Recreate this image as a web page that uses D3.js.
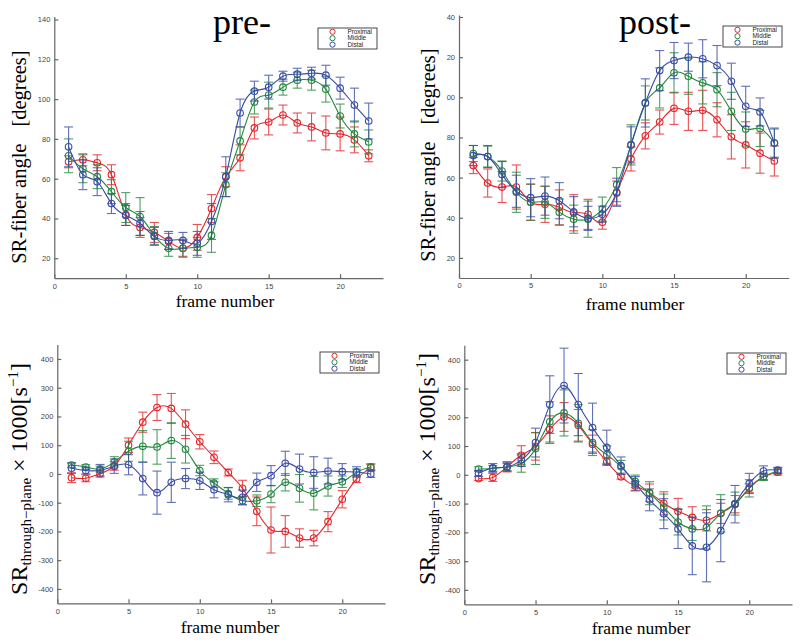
<!DOCTYPE html>
<html>
<head>
<meta charset="utf-8">
<script src="https://cdn.jsdelivr.net/npm/d3@7"></script>
<style>
  body { margin: 0; background: #fff; }
  svg { display: block; }
  .axis path, .axis line { stroke: #666; stroke-width: 1.2; }
  .axis text { font-family: "Liberation Sans", Arial, sans-serif; font-size: 7.5px; fill: #444; }
  .serif { font-family: "Liberation Serif", "Times New Roman", serif; fill: #000; }
  .legend text { font-family: "Liberation Sans", Arial, sans-serif; font-size: 6.3px; fill: #222; }
</style>
</head>
<body>
<svg id="chart"></svg>
<script>
// ---- data ----
const frames = [1,2,3,4,5,6,7,8,9,10,11,12,13,14,15,16,17,18,19,20,21,22];
const seriesNames = ["Proximal", "Middle", "Distal"];
const xTicks = [0, 5, 10, 15, 20];

const angleTicks = [20, 40, 60, 80, 100, 120, 140];
const angleTickLabelsPre = ["20", "40", "60", "80", "100", "120", "140"];
const angleTickLabelsPost = ["20", "40", "60", "80", "00", "20", "40"];
const srTicks = [-400, -300, -200, -100, 0, 100, 200, 300, 400];
const srTickLabels = ["-400", "-300", "-200", "-100", "0", "100", "200", "300", "400"];

// pre- : SR-fiber angle
const preAngleProximal    = [68.5,69.5,68,62,42,35.5,33,28.5,25,30.5,45,61,70.5,85.5,88.5,92,88,86,83,82.5,79.5,71.5];
const preAngleProximalErr = [3,3,4,5,5.5,5,5,4,4,6.5,7,5,6.5,5.5,6.5,5,5,7,8.5,8.5,6.5,3];
const preAngleMiddle      = [71.5,65,61,53.5,45.5,41,31.5,25,25,25.5,31.5,57,79,98.5,102,106,109.5,109.5,105,91.5,82.5,78.5];
const preAngleMiddleErr   = [8.5,7,6,6,7.5,9.5,4.5,4,4.5,5,8.5,6,7,6,6.5,4,4,5,6.5,6,6.5,6];
const preAngleDistal      = [76,62,58.5,47.5,41.5,37.5,31,29,29,27.5,38.5,61,93,104,106,111.5,112.5,113,112,105.5,97,89];
const preAngleDistalErr   = [10,7.5,7,5,5,6,4.5,4.5,4,6,9,10,7,5,6,2.5,3,3,5,5.5,8.5,9];

// post- : SR-fiber angle
const postAngleProximal    = [66,57.3,55.3,55.3,47.7,46.7,45.2,42.5,41.7,37.8,52.3,69.3,80.8,87.7,94.5,93,93.5,88.8,80.3,76.3,72.2,68.3];
const postAngleProximalErr = [4,7,7.7,11,9,9,8.7,9,7.5,3.5,6,6,6.5,6,8,9.5,10,8.5,11,11.5,10,7.5];
const postAngleMiddle      = [72,70.5,63.3,52.7,47.8,47.7,42.8,39.3,39.3,44.3,56.5,76.3,97.2,104.7,112.2,110.5,107.2,103.8,93,84.2,84.5,77.2];
const postAngleMiddleErr   = [4,5.2,5,10,9,8,6.5,7,9,6,8.5,10,8.5,10,10,9,10.5,8.5,9.5,8.5,9,7];
const postAngleDistal      = [71,70.5,61.5,53.2,50,50.8,48.5,43,39.7,41.8,52.7,76.3,97.2,113.3,118.3,120,119.2,115.8,108,95.5,92.7,77.2];
const postAngleDistalErr   = [5,5.5,6.5,8,9.5,9.5,9,7.5,6,4,7,9,12,10,9,7,9.5,10,9,10,7,7.5];

// pre- : through-plane strain rate x1000
const preSRProximal    = [-13,-15,1,28,100,180,231,228,173,112,58,5,-50,-130,-195,-200,-223,-223,-166,-88,-18,22];
const preSRProximalErr = [17,12,12,15,25,35,45,52,50,25,22,12,28,50,80,55,32,27,35,30,12,12];
const preSRMiddle      = [31,24,17,42,79,96,94,116,86,12,-32,-68,-93,-93,-70,-29,-50,-67,-42,-27,5,25];
const preSRMiddleErr   = [8,8,10,18,35,55,60,62,48,18,15,20,15,20,30,30,48,58,35,20,12,10];
const preSRDistal      = [20,12,13,27,32,-16,-65,-29,-16,-24,-55,-72,-81,-29,-6,37,17,5,10,8,7,0];
const preSRDistalErr   = [18,12,20,25,35,57,75,70,35,30,28,25,25,32,35,42,52,55,45,28,18,12];

// post- : through-plane strain rate x1000
const postSRProximal    = [-13,-9,28,68,99,157,201,172,106,45,-7,-39,-62,-99,-127,-148,-158,-134,-102,-46,-7,9];
const postSRProximalErr = [7,14,18,33,48,48,50,55,32,12,8,15,30,40,45,37,37,35,30,15,10,10];
const postSRMiddle      = [20,22,27,39,91,184,215,179,112,70,28,-23,-64,-112,-164,-188,-183,-134,-100,-47,-7,14];
const postSRMiddleErr   = [8,10,12,30,55,70,80,65,45,30,22,22,40,45,45,40,75,65,40,30,13,10];
const postSRDistal      = [5,24,27,51,112,244,310,244,164,95,32,-31,-87,-135,-188,-247,-252,-194,-102,-30,13,16];
const postSRDistalErr   = [10,15,15,22,50,100,130,108,85,60,30,25,38,52,68,100,120,108,65,35,18,10];

// ---- layout ----
const width = 800, height = 642;
const colors = { Proximal: "#e3262c", Middle: "#24883f", Distal: "#3a4ca6" };

const svg = d3.select("#chart").attr("width", width).attr("height", height);

const panels = [
  { left: 54.3, right: 383, top: 16.5, bottom: 278.2, yDomain: [10, 141.5],
    yTicks: angleTicks, yLabels: angleTickLabelsPre, kind: "angle",
    title: "pre-", titleX: 242, titleY: 34, xLabelX: 225, xLabelY: 307, yLabelX: 26, yLabelY: 157,
    legend: { x: 318, y: 28 },
    series: [[preAngleProximal, preAngleProximalErr], [preAngleMiddle, preAngleMiddleErr], [preAngleDistal, preAngleDistalErr]] },
  { left: 459, right: 788.7, top: 15, bottom: 278, yDomain: [10, 141],
    yTicks: angleTicks, yLabels: angleTickLabelsPost, kind: "angle",
    title: "post-", titleX: 655, titleY: 34, xLabelX: 635, xLabelY: 310, yLabelX: 435, yLabelY: 155,
    legend: { x: 723, y: 26 },
    series: [[postAngleProximal, postAngleProximalErr], [postAngleMiddle, postAngleMiddleErr], [postAngleDistal, postAngleDistalErr]] },
  { left: 57.3, right: 385, top: 344.6, bottom: 603.3, yDomain: [-450, 450],
    yTicks: srTicks, yLabels: srTickLabels, kind: "sr",
    xLabelX: 230, xLabelY: 633, yLabelX: 27, yLabelY: 479,
    legend: { x: 320, y: 352 },
    series: [[preSRProximal, preSRProximalErr], [preSRMiddle, preSRMiddleErr], [preSRDistal, preSRDistalErr]] },
  { left: 464.3, right: 792, top: 345.3, bottom: 604.3, yDomain: [-450, 450],
    yTicks: srTicks, yLabels: srTickLabels, kind: "sr",
    xLabelX: 641, xLabelY: 634, yLabelX: 435, yLabelY: 469,
    legend: { x: 727, y: 353 },
    series: [[postSRProximal, postSRProximalErr], [postSRMiddle, postSRMiddleErr], [postSRDistal, postSRDistalErr]] }
];

function drawPanel(p) {
  const g = svg.append("g");
  const x = d3.scaleLinear().domain([0, 23]).range([p.left, p.right]);
  const y = d3.scaleLinear().domain(p.yDomain).range([p.bottom, p.top]);

  g.append("g").attr("class", "axis")
    .attr("transform", `translate(0,${p.bottom})`)
    .call(d3.axisBottom(x).tickValues(xTicks).tickFormat(d3.format("d"))
      .tickSizeInner(-4).tickSizeOuter(0).tickPadding(5));

  g.append("g").attr("class", "axis")
    .attr("transform", `translate(${p.left},0)`)
    .call(d3.axisLeft(y).tickValues(p.yTicks).tickFormat((d, i) => p.yLabels[i])
      .tickSizeInner(-4).tickSizeOuter(0).tickPadding(4));

  const line = d3.line().curve(d3.curveNatural)
    .x(d => x(d.f)).y(d => y(d.v));

  p.series.forEach(([vals, errs], si) => {
    const name = seriesNames[si];
    const col = colors[name];
    const pts = frames.map((f, i) => ({ f: f, v: vals[i], e: errs[i] }));
    const s = g.append("g");

    const eb = s.selectAll(".eb").data(pts).enter().append("g")
      .attr("stroke", col).attr("stroke-width", 1.1).attr("opacity", 0.8);
    eb.append("line")
      .attr("x1", d => x(d.f)).attr("x2", d => x(d.f))
      .attr("y1", d => y(d.v - d.e)).attr("y2", d => y(d.v + d.e));
    eb.append("line")
      .attr("x1", d => x(d.f) - 4.5).attr("x2", d => x(d.f) + 4.5)
      .attr("y1", d => y(d.v - d.e)).attr("y2", d => y(d.v - d.e));
    eb.append("line")
      .attr("x1", d => x(d.f) - 4.5).attr("x2", d => x(d.f) + 4.5)
      .attr("y1", d => y(d.v + d.e)).attr("y2", d => y(d.v + d.e));

    s.append("path").attr("d", line(pts))
      .attr("fill", "none").attr("stroke", col).attr("stroke-width", 1.1);

    s.selectAll("circle").data(pts).enter().append("circle")
      .attr("cx", d => x(d.f)).attr("cy", d => y(d.v)).attr("r", 3.3)
      .attr("fill", "none").attr("stroke", col).attr("stroke-width", 1.1);
  });

  // legend
  const lg = g.append("g").attr("class", "legend")
    .attr("transform", `translate(${p.legend.x},${p.legend.y})`);
  lg.append("rect").attr("width", 59).attr("height", 21)
    .attr("fill", "#fff").attr("stroke", "#333").attr("stroke-width", 0.9);
  seriesNames.forEach((name, i) => {
    lg.append("circle").attr("cx", 14.5).attr("cy", 3.8 + i * 6.4).attr("r", 2.6)
      .attr("fill", "none").attr("stroke", colors[name]).attr("stroke-width", 1);
    lg.append("text").attr("x", 29.5).attr("y", 6 + i * 6.4).text(name);
  });

  // titles and axis labels
  if (p.title) {
    g.append("text").attr("class", "serif").attr("x", p.titleX).attr("y", p.titleY)
      .attr("text-anchor", "middle").style("font-size", "36px").text(p.title);
  }
  g.append("text").attr("class", "serif").attr("x", p.xLabelX).attr("y", p.xLabelY)
    .attr("text-anchor", "middle").style("font-size", "17.5px").text("frame number");

  const yl = g.append("text").attr("class", "serif")
    .attr("transform", `translate(${p.yLabelX},${p.yLabelY}) rotate(-90)`)
    .attr("text-anchor", "middle");
  if (p.kind === "angle") {
    yl.style("font-size", "20.5px");
    yl.append("tspan").text("SR-fiber angle");
    yl.append("tspan").attr("dx", 17).text("[degrees]");
  } else {
    yl.style("font-size", "24px");
    yl.append("tspan").text("SR");
    yl.append("tspan").attr("dy", 4).style("font-size", "15px").text("through\u2212plane");
    yl.append("tspan").attr("dy", -4).text(" \u00d7 1000[s");
    yl.append("tspan").attr("dy", -9).style("font-size", "15px").text("\u22121");
    yl.append("tspan").attr("dy", 9).text("]");
  }
}

panels.forEach(drawPanel);
</script>
</body>
</html>
